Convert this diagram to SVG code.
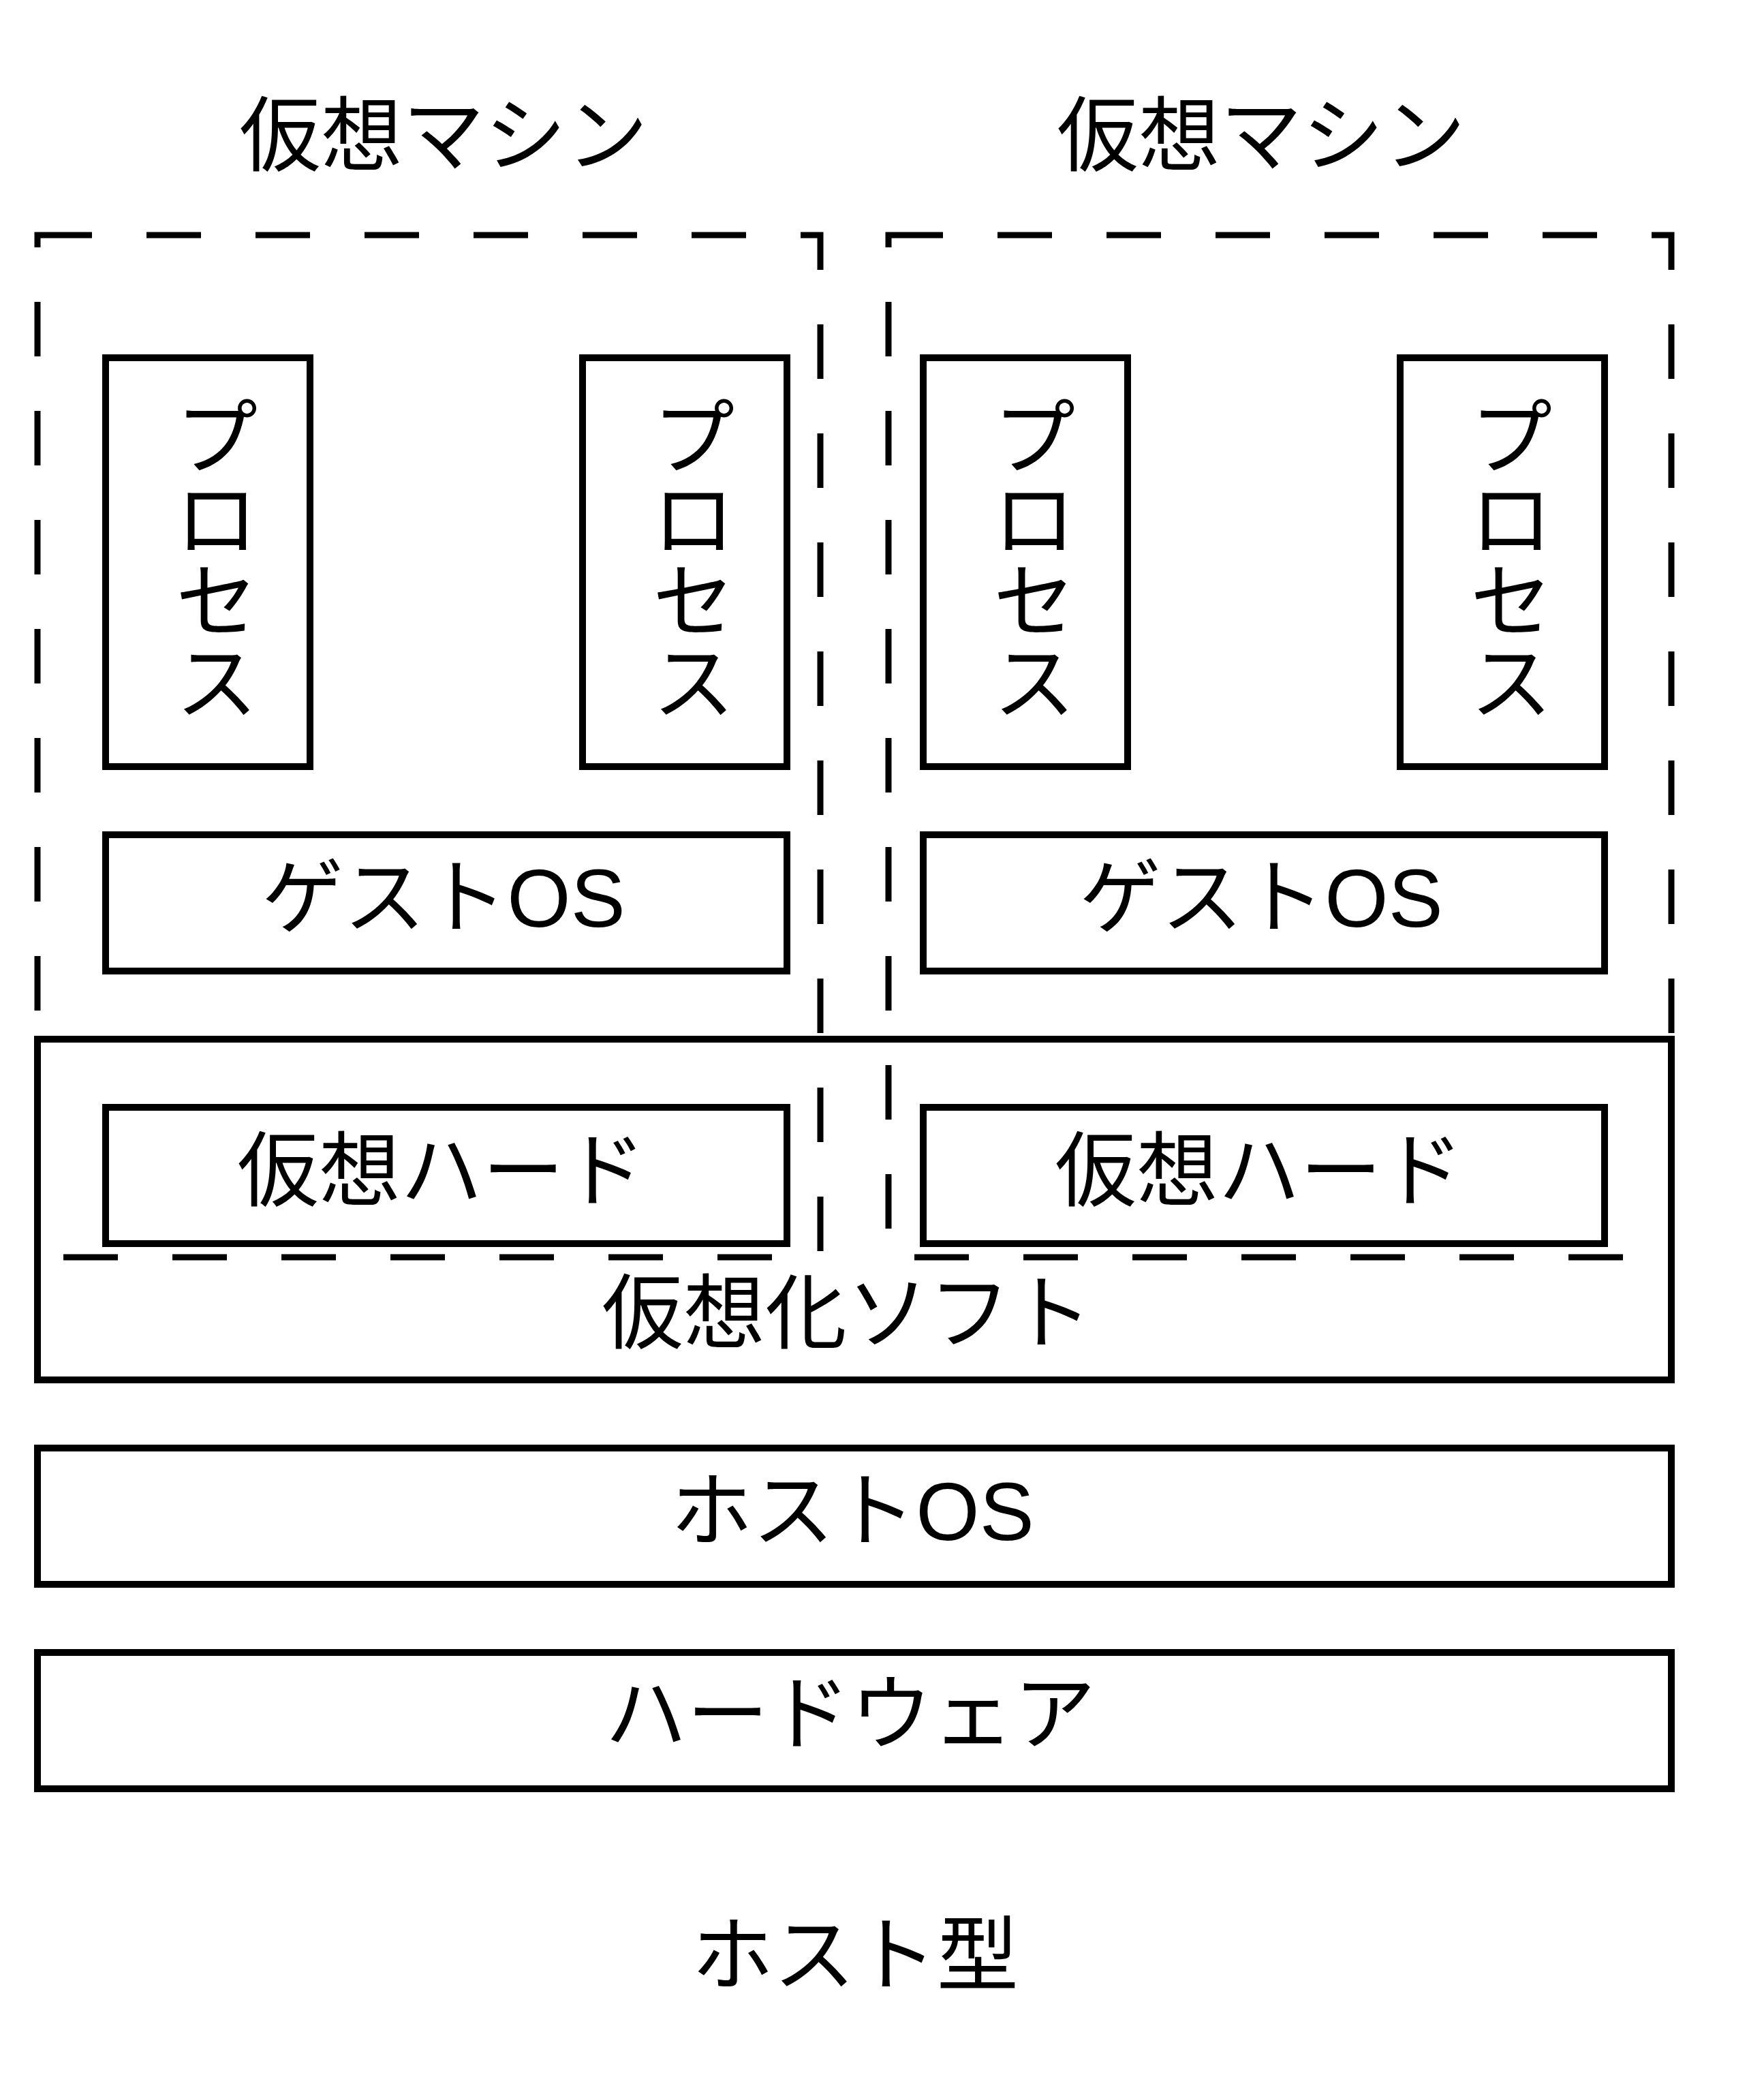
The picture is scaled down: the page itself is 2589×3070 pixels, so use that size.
<svg xmlns="http://www.w3.org/2000/svg" width="2589" height="3070" viewBox="0 0 2589 3070">
<style>
.box{fill:none;stroke:#000;stroke-width:10}
.vm{fill:none;stroke:#000;stroke-width:9;stroke-dasharray:80 80}
.t{font-family:"Liberation Sans","Noto Sans CJK JP",sans-serif;font-size:120px;text-anchor:middle;fill:#000}
</style>
<rect width="2589" height="3070" fill="#fff"/>
<g id="vm1">
<rect class="vm" x="55" y="345" width="1149" height="1500"/>
<text class="t" x="651" y="242">仮想マシン</text>
</g>
<g id="vm2">
<rect class="vm" x="1304" y="345" width="1149" height="1500"/>
<text class="t" x="1851" y="242">仮想マシン</text>
</g>
<g id="process1">
<rect class="box" x="155" y="525" width="300" height="600"/>
<text class="t"><tspan x="318" y="686">プ</tspan><tspan x="318" y="806">ロ</tspan><tspan x="318" y="926">セ</tspan><tspan x="318" y="1046">ス</tspan></text>
</g>
<g id="process2">
<rect class="box" x="855" y="525" width="300" height="600"/>
<text class="t"><tspan x="1018" y="686">プ</tspan><tspan x="1018" y="806">ロ</tspan><tspan x="1018" y="926">セ</tspan><tspan x="1018" y="1046">ス</tspan></text>
</g>
<g id="process3">
<rect class="box" x="1355" y="525" width="300" height="600"/>
<text class="t"><tspan x="1518" y="686">プ</tspan><tspan x="1518" y="806">ロ</tspan><tspan x="1518" y="926">セ</tspan><tspan x="1518" y="1046">ス</tspan></text>
</g>
<g id="process4">
<rect class="box" x="2055" y="525" width="300" height="600"/>
<text class="t"><tspan x="2218" y="686">プ</tspan><tspan x="2218" y="806">ロ</tspan><tspan x="2218" y="926">セ</tspan><tspan x="2218" y="1046">ス</tspan></text>
</g>
<g id="guestos1">
<rect class="box" x="155" y="1225" width="1000" height="200"/>
<text class="t" x="651" y="1360">ゲストOS</text>
</g>
<g id="guestos2">
<rect class="box" x="1355" y="1225" width="1000" height="200"/>
<text class="t" x="1851" y="1360">ゲストOS</text>
</g>
<g id="virtsoft">
<rect class="box" x="55" y="1525" width="2398" height="500"/>
<text class="t" x="1243" y="1970">仮想化ソフト</text>
</g>
<g id="vhw1">
<rect class="box" x="155" y="1625" width="1000" height="200"/>
<text class="t" x="648" y="1761">仮想ハード</text>
</g>
<g id="vhw2">
<rect class="box" x="1355" y="1625" width="1000" height="200"/>
<text class="t" x="1848" y="1761">仮想ハード</text>
</g>
<g id="hostos">
<rect class="box" x="55" y="2125" width="2398" height="200"/>
<text class="t" x="1251" y="2260">ホストOS</text>
</g>
<g id="hardware">
<rect class="box" x="55" y="2425" width="2398" height="200"/>
<text class="t" x="1248" y="2558">ハードウェア</text>
</g>
<g id="caption">
<text class="t" x="1255" y="2912">ホスト型</text>
</g>
</svg>
